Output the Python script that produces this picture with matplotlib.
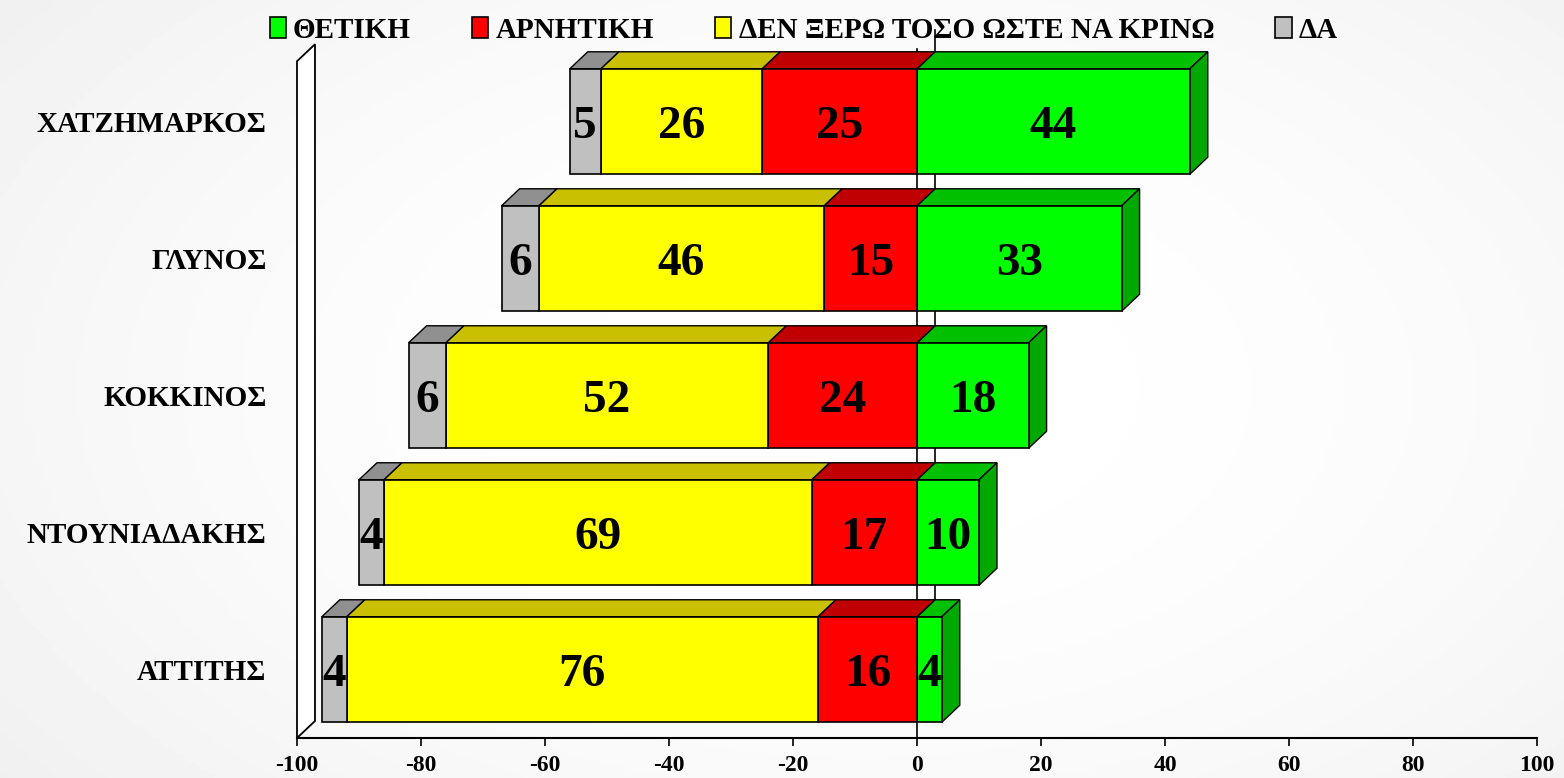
import numpy as np
import matplotlib.pyplot as plt
from matplotlib.patches import Polygon, Patch

plt.rcParams['font.family'] = ['Liberation Serif', 'DejaVu Serif']
plt.rcParams['font.weight'] = 'bold'

# data, top row first
names = ['ΧΑΤΖΗΜΑΡΚΟΣ', 'ΓΛΥΝΟΣ', 'ΚΟΚΚΙΝΟΣ', 'ΝΤΟΥΝΙΑΔΑΚΗΣ', 'ΑΤΤΙΤΗΣ']
positive = [44, 33, 18, 10, 4]
negative = [25, 15, 24, 17, 16]
dont_know = [26, 46, 52, 69, 76]
no_answer = [5, 6, 6, 4, 4]

series = ['ΘΕΤΙΚΗ', 'ΑΡΝΗΤΙΚΗ', 'ΔΕΝ ΞΕΡΩ ΤΟΣΟ ΩΣΤΕ ΝΑ ΚΡΙΝΩ', 'ΔΑ']
front_col = ['#00ff00', '#ff0000', '#ffff00', '#c0c0c0']
top_col = ['#00c000', '#c00000', '#c8c000', '#909090']
side_col = '#00a800'

xticks = [-100, -80, -60, -40, -20, 0, 20, 40, 60, 80, 100]

W, H = 15.64, 7.78
fig = plt.figure(figsize=(W, H), dpi=100)

# soft grey background, whiter in the middle
bg = fig.add_axes([0, 0, 1, 1])
yy, xx = np.mgrid[0:1:200j, 0:1:400j]
r = np.sqrt(((xx - 0.55) / 0.75) ** 2 + ((yy - 0.5) / 0.9) ** 2)
bg.imshow(1 - 0.07 * np.clip(r, 0, 1) ** 2, cmap='gray', vmin=0, vmax=1,
          aspect='auto', extent=(0, 1, 0, 1))
bg.axis('off')

ax = fig.add_axes([297 / 1564, 1 - 738 / 778, 1240 / 1564, 708 / 778])
ax.set_facecolor('none')
ax.set_xlim(-100, 100)
ax.set_ylim(-0.5, 4.668)

n = len(names)
h = 0.77
dx, dy = 2.9, 0.124

# left wall
wall_top = 4.44
ax.add_patch(Polygon([(-100, -0.5), (-100, wall_top), (-100 + dx, wall_top + dy),
                      (-100 + dx, -0.5 + dy)], closed=True, facecolor='white',
                     edgecolor='black', lw=1.3, zorder=1, clip_on=False))
# zero lines (front and back)
ax.plot([0, 0], [-0.5, 4.53], color='black', lw=1.2, zorder=1)
ax.plot([dx, dx], [-0.5 + dy, 4.668], color='black', lw=1.2, zorder=1, clip_on=False)

for i in range(n):
    y = n - 1 - i
    segs = [(0, positive[i], 0), (-negative[i], negative[i], 1),
            (-negative[i] - dont_know[i], dont_know[i], 2),
            (-negative[i] - dont_know[i] - no_answer[i], no_answer[i], 3)]
    for left, width, k in segs:
        ax.barh(y, width, left=left, height=h, color=front_col[k],
                edgecolor='black', lw=1.2, zorder=3)
        top = y + h / 2
        ax.add_patch(Polygon([(left, top), (left + width, top),
                              (left + width + dx, top + dy), (left + dx, top + dy)],
                             closed=True, facecolor=top_col[k], edgecolor='black',
                             lw=1.0, zorder=2))
        ax.text(left + width / 2, y - 0.04, str(width), ha='center', va='center',
                fontsize=34, fontweight='bold', zorder=4)
    # right side face
    xr = positive[i]
    ax.add_patch(Polygon([(xr, y - h / 2), (xr + dx, y - h / 2 + dy),
                          (xr + dx, y + h / 2 + dy), (xr, y + h / 2)],
                         closed=True, facecolor=side_col, edgecolor='black',
                         lw=1.0, zorder=2))

ax.set_yticks([n - 1 - i for i in range(n)])
ax.set_yticklabels(names, fontsize=21, fontweight='bold')
ax.tick_params(axis='y', length=0, pad=22)
ax.set_xticks(xticks)
ax.set_xticklabels([str(t) for t in xticks], fontsize=17, fontweight='bold')
ax.tick_params(axis='x', length=6, width=1.2, direction='out', pad=6)
for s in ['top', 'right', 'left']:
    ax.spines[s].set_visible(False)
ax.spines['bottom'].set_linewidth(1.5)

handles = [Patch(facecolor=c, edgecolor='black', lw=1.2) for c in front_col]
fig.legend(handles, series, loc='upper center', bbox_to_anchor=(0.514, 1.012),
           ncol=4, frameon=False, prop={'size': 21, 'weight': 'bold'},
           handlelength=0.55, handleheight=0.7, handletextpad=0.25,
           columnspacing=2.1)

fig.savefig('out.png', dpi=100)
